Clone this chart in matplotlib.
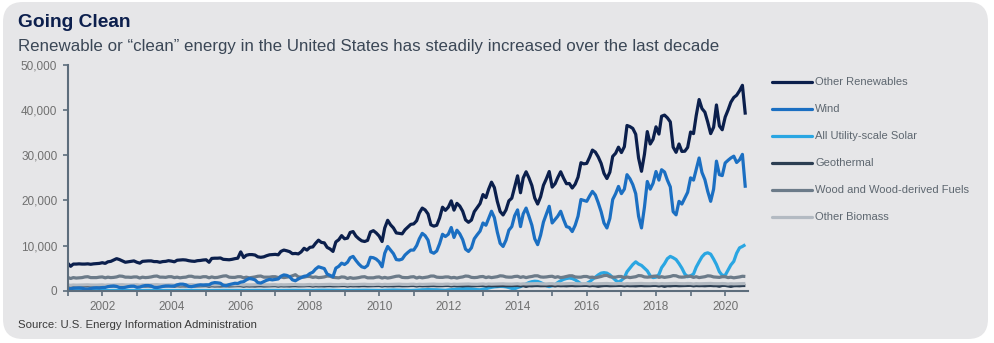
import matplotlib.pyplot as plt
import matplotlib.dates as mdates
import matplotlib.ticker as mticker
from matplotlib.patches import FancyBboxPatch
from matplotlib.lines import Line2D
import pandas as pd

plt.rcParams['font.family'] = ['Liberation Sans', 'DejaVu Sans']

# Monthly net generation, thousand MWh, Jan 2001 - Aug 2020 (one row per year)
other_renewables = [
    6100, 5400, 5900, 5900, 5950, 5900, 5900, 5950, 5850, 5950, 6000, 6050,
    6200, 6050, 6400, 6500, 6800, 7100, 6900, 6600, 6300, 6400, 6500, 6600,
    6300, 6100, 6500, 6550, 6600, 6600, 6450, 6450, 6300, 6450, 6500, 6650,
    6550, 6400, 6750, 6800, 6850, 6800, 6650, 6550, 6500, 6650, 6700, 6800,
    6850, 6300, 7150, 7200, 7200, 7250, 6950, 6900, 6850, 6950, 7100, 7200,
    8600, 7350, 7850, 8000, 8000, 7900, 7500, 7400, 7500, 7750, 7950, 8000,
    8050, 7950, 8700, 9000, 8850, 8650, 8200, 8250, 8150, 8600, 9400, 9000,
    9600, 9700, 10500, 11200, 10700, 10600, 9600, 9250, 8700, 10800, 11300, 12200,
    11500, 11650, 12900, 13100, 12100, 11500, 11050, 10900, 11150, 13000, 13300, 12800,
    12100, 10900, 13900, 15600, 14600, 13900, 12800, 12700, 12600, 13500, 14100, 14700,
    14800, 15500, 17200, 18300, 17900, 17000, 14600, 14300, 14500, 16100, 18500, 17800,
    18500, 19900, 17850, 19350, 18750, 17600, 15700, 15150, 15650, 17500, 18400, 19300,
    21300, 20620, 22450, 24050, 22850, 19800, 17550, 16780, 17900, 19900, 20500, 22970,
    25450, 21700, 24950, 26350, 25000, 23300, 20550, 19200, 20800, 23350, 24800, 26400,
    22950, 23700, 25050, 26350, 24950, 23700, 23750, 22750, 23600, 25150, 28350, 28100,
    28200, 29600, 31150, 30700, 29650, 28200, 26000, 24850, 26250, 29750, 30450, 31800,
    30600, 31900, 36600, 36350, 35950, 34650, 29400, 26450, 30200, 35250, 32500, 33550,
    36300, 34700, 38650, 38900, 38300, 37400, 31800, 30650, 32500, 30850, 30900, 31750,
    35150, 34800, 38750, 42350, 40350, 39550, 37350, 34800, 36200, 41150, 36500, 35650,
    38450, 40050, 41750, 42800, 43300, 44300, 45500, 39000,
]

wind = [
    450, 420, 550, 600, 620, 550, 400, 380, 500, 600, 650, 600,
    700, 720, 900, 1000, 1050, 950, 700, 650, 750, 900, 1000, 1000,
    750, 800, 1000, 1150, 1150, 1050, 750, 700, 800, 950, 1050, 1050,
    1000, 1050, 1300, 1450, 1450, 1300, 950, 900, 1050, 1200, 1300, 1250,
    1300, 1300, 1650, 1800, 1750, 1650, 1200, 1100, 1350, 1500, 1650, 1600,
    1900, 2000, 2400, 2700, 2600, 2400, 1800, 1700, 2000, 2300, 2500, 2400,
    2500, 2600, 3200, 3500, 3400, 3100, 2400, 2200, 2600, 2900, 3200, 3300,
    3800, 4100, 4800, 5300, 5100, 4900, 3700, 3400, 3100, 5000, 5400, 6100,
    5800, 6300, 7300, 7600, 6700, 5900, 5300, 5100, 5600, 7400, 7300, 7000,
    6400, 5300, 8300, 9800, 9000, 8200, 6900, 6800, 7000, 7900, 8500, 9000,
    9000, 10000, 11500, 12700, 12200, 11200, 8600, 8300, 8800, 10400, 12500, 12000,
    12500, 14000, 11800, 13400, 12600, 11300, 9200, 8700, 9500, 11500, 12400, 13200,
    15000, 14500, 16000, 17600, 16200, 13000, 10500, 9800, 11200, 13400, 14200, 16600,
    17900, 14200, 17000, 18300, 16500, 14500, 11500, 10200, 12300, 15200, 17000, 18700,
    15000, 15800, 16500, 17600, 15800, 14200, 14000, 13100, 14500, 16500, 20200, 20000,
    19800, 21000, 22000, 21200, 19500, 17500, 15000, 13900, 16000, 20200, 21500, 23100,
    21500, 22500, 25700, 24800, 23500, 21500, 16500, 13900, 18500, 24200, 22500, 23800,
    26400, 24500, 26800, 26300, 24500, 23000, 17500, 16800, 19800, 19200, 20500, 21800,
    25000, 24500, 26800, 29400, 26200, 24600, 22000, 19800, 22500, 28700, 25700, 25500,
    28300, 28900, 29400, 29800, 28400, 29000, 30200, 22800,
]

solar = [
    30, 40, 50, 55, 65, 70, 65, 60, 55, 45, 35, 30,
    35, 45, 55, 60, 70, 75, 70, 65, 60, 50, 40, 35,
    35, 45, 55, 60, 70, 75, 70, 65, 60, 50, 40, 35,
    35, 45, 55, 65, 75, 75, 70, 70, 60, 50, 40, 35,
    35, 45, 55, 65, 75, 80, 75, 70, 60, 50, 40, 35,
    35, 45, 55, 65, 75, 80, 75, 70, 60, 50, 40, 35,
    35, 50, 60, 70, 80, 85, 80, 75, 65, 55, 40, 35,
    40, 60, 80, 100, 110, 110, 110, 100, 90, 70, 50, 40,
    50, 60, 80, 100, 110, 110, 110, 100, 90, 70, 50, 50,
    60, 80, 110, 140, 150, 150, 140, 140, 120, 100, 70, 60,
    80, 110, 160, 200, 230, 240, 230, 230, 200, 160, 110, 90,
    180, 220, 300, 350, 420, 450, 450, 430, 380, 320, 230, 200,
    350, 420, 600, 750, 850, 900, 950, 930, 850, 700, 500, 420,
    700, 900, 1200, 1500, 1800, 2000, 2100, 2050, 1800, 1500, 1100, 900,
    1100, 1300, 1800, 2200, 2500, 2700, 2800, 2700, 2400, 2000, 1500, 1300,
    1600, 2000, 2500, 3000, 3500, 3900, 4000, 3900, 3500, 2900, 2300, 1900,
    2300, 2900, 4200, 5000, 5800, 6400, 5900, 5600, 5000, 4400, 3300, 2900,
    3000, 3600, 5100, 6000, 7100, 7600, 7300, 6900, 6000, 5000, 3700, 3100,
    3300, 3700, 5200, 6400, 7500, 8200, 8400, 8100, 7000, 5800, 4200, 3400,
    3400, 4600, 5700, 6500, 8300, 9500, 9800, 10200,
]

geothermal = [
    1120, 1010, 1100, 1060, 1080, 1040, 1090, 1100, 1050, 1080, 1070, 1110,
    1110, 1000, 1090, 1050, 1070, 1040, 1090, 1100, 1060, 1070, 1080, 1120,
    1100, 1000, 1080, 1040, 1060, 1030, 1080, 1090, 1040, 1060, 1070, 1110,
    1110, 1010, 1090, 1050, 1070, 1050, 1090, 1100, 1050, 1070, 1080, 1120,
    1110, 1000, 1090, 1040, 1060, 1040, 1080, 1090, 1050, 1070, 1080, 1110,
    1100, 1000, 1080, 1040, 1060, 1030, 1080, 1090, 1040, 1060, 1070, 1100,
    1110, 1010, 1090, 1050, 1070, 1040, 1090, 1100, 1060, 1070, 1080, 1120,
    1120, 1020, 1100, 1060, 1080, 1050, 1100, 1110, 1060, 1080, 1090, 1130,
    1130, 1020, 1110, 1070, 1090, 1060, 1110, 1110, 1070, 1090, 1100, 1140,
    1140, 1030, 1120, 1070, 1090, 1060, 1110, 1120, 1080, 1090, 1100, 1140,
    1150, 1040, 1130, 1080, 1100, 1070, 1120, 1130, 1090, 1100, 1110, 1150,
    1150, 1050, 1130, 1080, 1100, 1060, 1120, 1130, 1080, 1100, 1110, 1150,
    1160, 1050, 1140, 1090, 1110, 1070, 1120, 1140, 1090, 1110, 1120, 1160,
    1170, 1060, 1140, 950, 1110, 1080, 1130, 1140, 1100, 1110, 1120, 1170,
    1170, 1060, 1150, 1100, 1120, 1080, 1130, 1150, 1100, 1120, 1130, 1170,
    1180, 1070, 1150, 1100, 980, 1080, 1140, 1150, 1100, 1120, 1130, 1180,
    1180, 1070, 1160, 1100, 1110, 1070, 1130, 1150, 1100, 1110, 1120, 1170,
    1180, 1060, 1150, 960, 1120, 1080, 1140, 1150, 1100, 1120, 1130, 1180,
    1190, 1070, 1150, 1110, 1130, 1090, 1140, 1160, 1110, 1120, 980, 1180,
    1180, 1070, 950, 1100, 1120, 1090, 1150, 1160,
]

wood = [
    2950, 2700, 2900, 2800, 2850, 2900, 3050, 3100, 2900, 2900, 2900, 3000,
    3050, 2850, 3000, 2900, 2950, 3050, 3250, 3200, 3000, 3000, 2950, 3050,
    3050, 2800, 3000, 2900, 2950, 3050, 3200, 3250, 3000, 3000, 2950, 3100,
    3100, 2900, 3000, 2850, 2950, 3000, 3200, 3200, 3000, 3000, 2950, 3100,
    3100, 2850, 3050, 2900, 2950, 3100, 3250, 3300, 3000, 2950, 2950, 3100,
    3100, 2850, 3000, 2850, 2950, 3050, 3200, 3250, 3000, 3000, 3000, 3100,
    3100, 2900, 3050, 2900, 3000, 3100, 3300, 3550, 3050, 3000, 3000, 3150,
    3150, 2950, 3050, 2900, 2950, 3050, 3250, 3200, 2950, 2900, 2850, 3050,
    3000, 2700, 2900, 2750, 2800, 2900, 3050, 3100, 2850, 2850, 2850, 3000,
    3050, 2800, 2950, 2800, 2900, 3050, 3200, 3250, 2950, 2900, 2900, 3050,
    3100, 2800, 3000, 2850, 2950, 3050, 3250, 3250, 3000, 2950, 2950, 3050,
    3050, 2850, 2950, 2800, 2950, 3050, 3250, 3200, 2950, 2900, 2950, 3100,
    3150, 2900, 3050, 2900, 3000, 3100, 3300, 3250, 3050, 3000, 3000, 3150,
    3200, 2950, 3100, 2900, 3050, 3150, 3300, 3300, 3050, 3000, 3050, 3150,
    3200, 2950, 3100, 2900, 3000, 3150, 3300, 3300, 3050, 3000, 3000, 3150,
    3150, 2950, 3000, 2850, 3000, 3150, 3350, 3400, 3100, 3000, 3000, 3150,
    3150, 2850, 3050, 2900, 3000, 3100, 3350, 3300, 3050, 3000, 3050, 3200,
    3250, 2950, 3100, 2950, 3050, 3150, 3350, 3300, 3050, 3000, 3050, 3200,
    3200, 2950, 3100, 2900, 3000, 3100, 3300, 3250, 3050, 3000, 2950, 3100,
    3100, 2900, 3000, 2850, 2950, 3050, 3200, 3150,
]

other_biomass = [
    1280, 1200, 1270, 1230, 1250, 1260, 1300, 1310, 1260, 1250, 1240, 1280,
    1300, 1220, 1290, 1250, 1270, 1280, 1320, 1330, 1280, 1270, 1260, 1300,
    1320, 1230, 1300, 1260, 1280, 1290, 1330, 1340, 1290, 1280, 1270, 1310,
    1310, 1230, 1300, 1260, 1280, 1290, 1330, 1340, 1290, 1280, 1270, 1310,
    1320, 1240, 1310, 1270, 1290, 1300, 1340, 1350, 1300, 1290, 1280, 1320,
    1330, 1250, 1320, 1280, 1300, 1310, 1350, 1360, 1310, 1300, 1290, 1330,
    1340, 1260, 1330, 1290, 1310, 1320, 1360, 1380, 1320, 1310, 1300, 1350,
    1380, 1290, 1370, 1330, 1350, 1360, 1400, 1410, 1360, 1350, 1340, 1390,
    1400, 1310, 1390, 1350, 1370, 1380, 1420, 1430, 1380, 1370, 1360, 1410,
    1420, 1330, 1410, 1370, 1390, 1400, 1440, 1450, 1400, 1390, 1380, 1430,
    1440, 1350, 1430, 1390, 1410, 1420, 1460, 1470, 1420, 1410, 1400, 1450,
    1460, 1370, 1450, 1410, 1430, 1440, 1480, 1490, 1440, 1430, 1420, 1470,
    1500, 1410, 1490, 1450, 1470, 1480, 1520, 1530, 1480, 1470, 1460, 1510,
    1540, 1450, 1530, 1490, 1510, 1520, 1560, 1570, 1520, 1510, 1500, 1550,
    1560, 1470, 1550, 1510, 1530, 1540, 1580, 1590, 1540, 1530, 1520, 1570,
    1570, 1480, 1560, 1520, 1540, 1550, 1590, 1600, 1550, 1540, 1530, 1580,
    1580, 1490, 1570, 1530, 1550, 1560, 1600, 1610, 1560, 1550, 1540, 1590,
    1590, 1500, 1580, 1540, 1560, 1570, 1610, 1620, 1570, 1560, 1550, 1600,
    1580, 1490, 1570, 1530, 1550, 1560, 1600, 1610, 1560, 1550, 1540, 1590,
    1560, 1470, 1550, 1510, 1530, 1540, 1580, 1590,
]

# name, values, colour, stacking order (solar sits under the grey lines, wind above them)
series = [
    ("Other Renewables", other_renewables, "#0b1f4c", 7),
    ("Wind", wind, "#1b6fc2", 6),
    ("All Utility-scale Solar", solar, "#2aa6e2", 2),
    ("Geothermal", geothermal, "#2c3e52", 3),
    ("Wood and Wood-derived Fuels", wood, "#6c7b89", 4),
    ("Other Biomass", other_biomass, "#b3bac2", 5),
]

months = pd.date_range("2001-01-01", periods=len(wind), freq="MS")

W, H = 994, 343
fig = plt.figure(figsize=(W / 100, H / 100), dpi=100)
fig.patch.set_facecolor("white")


def fx(px):
    return px / W


def fy(py):
    return 1 - py / H


# rounded grey card behind everything
card = FancyBboxPatch((0.03, 0.04), 9.85, 3.37,
                      boxstyle="round,pad=0,rounding_size=0.2",
                      transform=fig.dpi_scale_trans,
                      facecolor="#e6e6e8", edgecolor="none", zorder=-1)
fig.add_artist(card)

ax = fig.add_axes([fx(67.7), fy(290.7), fx(748) - fx(67.7), fy(65) - fy(290.7)])
ax.patch.set_visible(False)

for name, values, color, z in series:
    ax.plot(months, values, color=color, linewidth=2.3, solid_capstyle="butt", zorder=z / 10 + 1.5)

ax.set_ylim(0, 50000)
ax.set_xlim(pd.Timestamp("2001-01-01"), pd.Timestamp("2020-08-29"))
ax.yaxis.set_major_locator(mticker.MultipleLocator(10000))
ax.yaxis.set_major_formatter(mticker.FuncFormatter(lambda v, p: f"{v:,.0f}"))
ax.xaxis.set_major_locator(mdates.YearLocator(2))
ax.xaxis.set_major_formatter(mdates.DateFormatter("%Y"))
ax.xaxis.set_minor_locator(mdates.YearLocator(1))

axis_color = "#5d6d7c"
for side in ["top", "right"]:
    ax.spines[side].set_visible(False)
for side in ["left", "bottom"]:
    ax.spines[side].set_color(axis_color)
    ax.spines[side].set_linewidth(1.5)
ax.tick_params(axis="both", which="both", direction="out", length=3.5, width=1.2,
               color=axis_color, labelsize=8.5, labelcolor="#707070", pad=4)

fig.text(fx(17.5), fy(27.3), "Going Clean", fontsize=13.8, fontweight="bold",
         color="#0c1f4d", va="baseline")
fig.text(fx(17.5), fy(50.7),
         "Renewable or \u201cclean\u201d energy in the United States has steadily increased over the last decade",
         fontsize=12.2, color="#3b4756", va="baseline")
fig.text(fx(17.5), fy(328.3), "Source: U.S. Energy Information Administration",
         fontsize=8.2, color="#3a3a3a", va="baseline")

# legend drawn by hand on the right of the card
row_y = 81.7
for name, values, color, z in series:
    fig.add_artist(Line2D([fx(772), fx(812)], [fy(row_y), fy(row_y)],
                          color=color, linewidth=2.3, solid_capstyle="round"))
    fig.text(fx(815), fy(row_y), name, fontsize=8, color="#5e6770", va="center")
    row_y += 27

fig.savefig("out.png", dpi=100)
